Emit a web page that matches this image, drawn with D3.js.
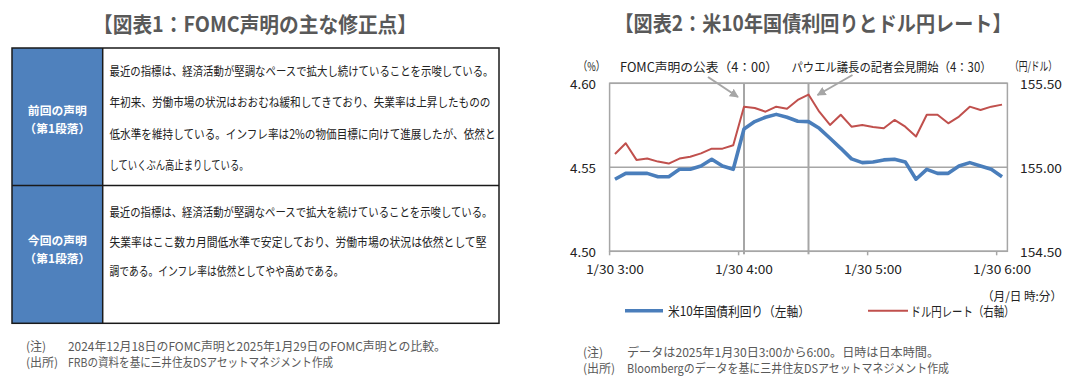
<!DOCTYPE html>
<html><head><meta charset="utf-8">
<script src="https://cdn.jsdelivr.net/npm/d3@7"></script>
<style>
html,body{margin:0;padding:0;background:#fff;}
svg{display:block;}
text{font-family:"Noto Sans CJK JP","Noto Sans",sans-serif;}
</style></head>
<body>
<script>
// ---------- data ----------
const title1 = "【図表1：FOMC声明の主な修正点】";
const title2 = "【図表2：米10年国債利回りとドル円レート】";
const rowHeaders = [["前回の声明","（第1段落）"],["今回の声明","（第1段落）"]];
const prevText = [
  "最近の指標は、経済活動が堅調なペースで拡大し続けていることを示唆している。",
  "年初来、労働市場の状況はおおむね緩和してきており、失業率は上昇したものの",
  "低水準を維持している。インフレ率は2%の物価目標に向けて進展したが、依然と",
  "していくぶん高止まりしている。"
];
const currText = [
  "最近の指標は、経済活動が堅調なペースで拡大を続けていることを示唆している。",
  "失業率はここ数カ月間低水準で安定しており、労働市場の状況は依然として堅",
  "調である。インフレ率は依然としてやや高めである。"
];
const notes1 = [["(注)","2024年12月18日のFOMC声明と2025年1月29日のFOMC声明との比較。"],
                ["(出所)","FRBの資料を基に三井住友DSアセットマネジメント作成"]];
const notes2 = [["(注)","データは2025年1月30日3:00から6:00。日時は日本時間。"],
                ["(出所)","Bloombergのデータを基に三井住友DSアセットマネジメント作成"]];

const times = ["3:00","3:05","3:10","3:15","3:20","3:25","3:30","3:35","3:40","3:45","3:50","3:55",
  "4:00","4:05","4:10","4:15","4:20","4:25","4:30","4:35","4:40","4:45","4:50","4:55",
  "5:00","5:05","5:10","5:15","5:20","5:25","5:30","5:35","5:40","5:45","5:50","5:55","6:00"];
const yield10y = [4.5429,4.5464,4.5464,4.5464,4.5444,4.5444,4.5488,4.5488,4.5508,4.5548,4.5508,4.5488,
  4.5728,4.5772,4.5798,4.5815,4.5798,4.5774,4.5772,4.5732,4.5673,4.5613,4.5550,4.5528,
  4.5532,4.5544,4.5548,4.5532,4.5429,4.5488,4.5464,4.5464,4.5508,4.5528,4.5508,4.5488,4.5444];
const usdjpy = [155.079,155.143,155.044,155.052,155.034,155.022,155.052,155.063,155.083,155.111,155.111,155.131,
  155.361,155.353,155.331,155.361,155.349,155.401,155.433,155.331,155.252,155.313,155.242,155.252,
  155.240,155.232,155.282,155.242,155.183,155.313,155.313,155.262,155.302,155.361,155.341,155.361,155.373];
const tickTimes = ["3:00","4:00","5:00","6:00"];
const tickLabels = ["1/30 3:00","1/30 4:00","1/30 5:00","1/30 6:00"];
const leftTicks = [4.50,4.55,4.60];
const rightTicks = [154.50,155.00,155.50];
const events = [{time:"4:00", label:"FOMC声明の公表（4：00）"},
                {time:"4:30", label:"パウエル議長の記者会見開始（4：30）"}];
const seriesNames = ["米10年国債利回り（左軸）","ドル円レート（右軸）"];

// ---------- drawing ----------
const W=1084,H=381;
const svg=d3.select("body").append("svg").attr("width",W).attr("height",H);
const TXT="#595959", BLUE="#4A7EBB", RED="#C0504D", GRAY="#A6A6A6";

// Titles
svg.append("text").attr("x",255).attr("y",23).attr("text-anchor","middle").attr("dominant-baseline","central")
  .attr("font-size",21).attr("font-weight","bold").attr("fill",TXT)
  .attr("textLength",324).attr("lengthAdjust","spacingAndGlyphs").text(title1);
svg.append("text").attr("x",813).attr("y",22).attr("text-anchor","middle").attr("dominant-baseline","central")
  .attr("font-size",21).attr("font-weight","bold").attr("fill",TXT)
  .attr("textLength",397).attr("lengthAdjust","spacingAndGlyphs").text(title2);

// Table
const tL=12,tR=499,tT=48,tM=185.5,tB=323.3,cX=102.7;
const tg=svg.append("g");
tg.append("rect").attr("x",tL).attr("y",tT).attr("width",cX-tL).attr("height",tB-tT).attr("fill","#4F81BD");
tg.append("rect").attr("x",tL).attr("y",tT).attr("width",tR-tL).attr("height",tB-tT)
  .attr("fill","none").attr("stroke","#1a1a1a").attr("stroke-width",1.5);
tg.append("line").attr("x1",tL).attr("x2",tR).attr("y1",tM).attr("y2",tM).attr("stroke","#1a1a1a").attr("stroke-width",1.5);
tg.append("line").attr("x1",cX).attr("x2",cX).attr("y1",tT).attr("y2",tB).attr("stroke","#1a1a1a").attr("stroke-width",1.5);

const headerY=[[109.8,127.2],[239.8,257.2]];
rowHeaders.forEach((h,i)=>{
  h.forEach((s,j)=>{
    tg.append("text").attr("x",(tL+cX)/2).attr("y",headerY[i][j]).attr("text-anchor","middle")
      .attr("dominant-baseline","central").attr("font-size",11.8).attr("font-weight","bold").attr("fill","#fff").text(s);
  });
});
const prevW=[384,381,386,139], currW=[383,377,234];
const prevY=[70.7,101.7,133.3,164.3], currY=[211.7,241,270.7];
function bodyLines(lines,ys,ws){
  lines.forEach((s,i)=>{
    tg.append("text").attr("x",109.5).attr("y",ys[i]).attr("dominant-baseline","central")
      .attr("font-size",12.5).attr("fill","#222")
      .attr("textLength",ws[i]).attr("lengthAdjust","spacingAndGlyphs").text(s);
  });
}
bodyLines(prevText,prevY,prevW);
bodyLines(currText,currY,currW);

// Notes
function notes(arr,x0,x1,ys,ws){
  arr.forEach((n,i)=>{
    svg.append("text").attr("x",x0).attr("y",ys[i]).attr("dominant-baseline","central").attr("font-size",12)
      .attr("fill",TXT).text(n[0]);
    svg.append("text").attr("x",x1).attr("y",ys[i]).attr("dominant-baseline","central").attr("font-size",12)
      .attr("fill",TXT).attr("textLength",ws[i]).attr("lengthAdjust","spacingAndGlyphs").text(n[1]);
  });
}
notes(notes1,26,68,[345,361.5],[378,265]);
notes(notes2,583,627,[351,367.5],[312,322]);

// Chart
const pL=609.6,pR=1007.4,pT=83.3,pB=251.3;
const x=d3.scalePoint().domain(times).range([pL,pR]).padding(0.5);
const yL=d3.scaleLinear().domain([4.50,4.60]).range([pB,pT]);
const yR=d3.scaleLinear().domain([154.5,155.5]).range([pB,pT]);
const cg=svg.append("g");

// grid
cg.selectAll(".grid").data(leftTicks).enter().append("line")
  .attr("x1",pL).attr("x2",pR).attr("y1",d=>yL(d)).attr("y2",d=>yL(d))
  .attr("stroke",GRAY).attr("stroke-width",1.5);
cg.append("rect").attr("x",pL).attr("y",pT).attr("width",pR-pL).attr("height",pB-pT)
  .attr("fill","none").attr("stroke",GRAY).attr("stroke-width",1.5);

// bottom ticks at category boundaries every 12
const step=x.step();
cg.selectAll(".tk").data(tickTimes).enter().append("line")
  .attr("x1",d=>x(d)-step/2).attr("x2",d=>x(d)-step/2).attr("y1",pB).attr("y2",pB+4)
  .attr("stroke",GRAY).attr("stroke-width",1.5);

// x labels
cg.selectAll(".xl").data(tickTimes).enter().append("text")
  .attr("x",d=>x(d)).attr("y",268.5).attr("text-anchor","middle").attr("dominant-baseline","central")
  .attr("font-family","'DejaVu Sans Mono',monospace").attr("font-size",12).attr("fill","#222")
  .attr("textLength",58).attr("lengthAdjust","spacingAndGlyphs")
  .text((d,i)=>tickLabels[i]);

// y labels
cg.selectAll(".yl").data(leftTicks).enter().append("text")
  .attr("x",596).attr("y",d=>yL(d)).attr("text-anchor","end").attr("dominant-baseline","central")
  .attr("font-family","'DejaVu Sans Mono',monospace").attr("font-size",12.5).attr("fill","#222")
  .attr("textLength",26).attr("lengthAdjust","spacingAndGlyphs").text(d=>d.toFixed(2));
cg.selectAll(".yr").data(rightTicks).enter().append("text")
  .attr("x",1020).attr("y",d=>yR(d)).attr("dominant-baseline","central")
  .attr("font-family","'DejaVu Sans Mono',monospace").attr("font-size",12.5).attr("fill","#222")
  .attr("textLength",42).attr("lengthAdjust","spacingAndGlyphs").text(d=>d.toFixed(2));

// unit labels
cg.append("text").attr("x",578).attr("y",65).attr("dominant-baseline","central").attr("font-size",12)
  .attr("fill","#222").attr("textLength",27).attr("lengthAdjust","spacingAndGlyphs").text("（%）");
cg.append("text").attr("x",1010).attr("y",65).attr("dominant-baseline","central").attr("font-size",12)
  .attr("fill","#222").attr("textLength",47).attr("lengthAdjust","spacingAndGlyphs").text("（円/ドル）");
cg.append("text").attr("x",982).attr("y",295).attr("dominant-baseline","central").attr("font-size",12)
  .attr("fill","#222").attr("textLength",80).attr("lengthAdjust","spacingAndGlyphs").text("（月/日 時:分）");

// event lines
cg.selectAll(".ev").data(events).enter().append("line")
  .attr("x1",d=>x(d.time)).attr("x2",d=>x(d.time)).attr("y1",pT).attr("y2",pB+3)
  .attr("stroke",GRAY).attr("stroke-width",2);

// series
const lineL=d3.line().x((d,i)=>x(times[i])).y(d=>yL(d));
const lineR=d3.line().x((d,i)=>x(times[i])).y(d=>yR(d));
cg.append("path").datum(usdjpy).attr("d",lineR).attr("fill","none").attr("stroke",RED).attr("stroke-width",2).attr("stroke-linejoin","round");
cg.append("path").datum(yield10y).attr("d",lineL).attr("fill","none").attr("stroke",BLUE).attr("stroke-width",3.6).attr("stroke-linejoin","round");

// annotations
const defs=svg.append("defs");
defs.append("marker").attr("id","ah").attr("viewBox","0 0 10 10").attr("refX",9).attr("refY",5)
  .attr("markerWidth",4.5).attr("markerHeight",4.5).attr("orient","auto")
  .append("path").attr("d","M0,0L10,5L0,10Z").attr("fill",GRAY);
const evX=events.map(e=>x(e.time));
const annot=[{tx:620,tw:158,x1:evX[0]-36,y1:77,x2:evX[0]-6,y2:97},
             {tx:791.5,tw:200,x1:evX[1]+44,y1:75,x2:evX[1]+9,y2:95}];
events.forEach((e,i)=>{
  const a=annot[i];
  cg.append("text").attr("x",a.tx).attr("y",66.5).attr("dominant-baseline","central").attr("font-size",12.5)
    .attr("fill","#222").attr("textLength",a.tw).attr("lengthAdjust","spacingAndGlyphs").text(e.label);
  cg.append("line").attr("x1",a.x1).attr("y1",a.y1).attr("x2",a.x2).attr("y2",a.y2)
    .attr("stroke",GRAY).attr("stroke-width",2).attr("marker-end","url(#ah)");
});

// legend
const leg=[{x1:625,x2:663,c:BLUE,w:3.6,tx:668,tw:142},{x1:868,x2:908,c:RED,w:2,tx:910.5,tw:104}];
seriesNames.forEach((n,i)=>{
  const l=leg[i];
  cg.append("line").attr("x1",l.x1).attr("x2",l.x2).attr("y1",310.7).attr("y2",310.7).attr("stroke",l.c).attr("stroke-width",l.w);
  cg.append("text").attr("x",l.tx).attr("y",310.7).attr("dominant-baseline","central").attr("font-size",13)
    .attr("fill","#222").attr("textLength",l.tw).attr("lengthAdjust","spacingAndGlyphs").text(n);
});
</script>
</body></html>
